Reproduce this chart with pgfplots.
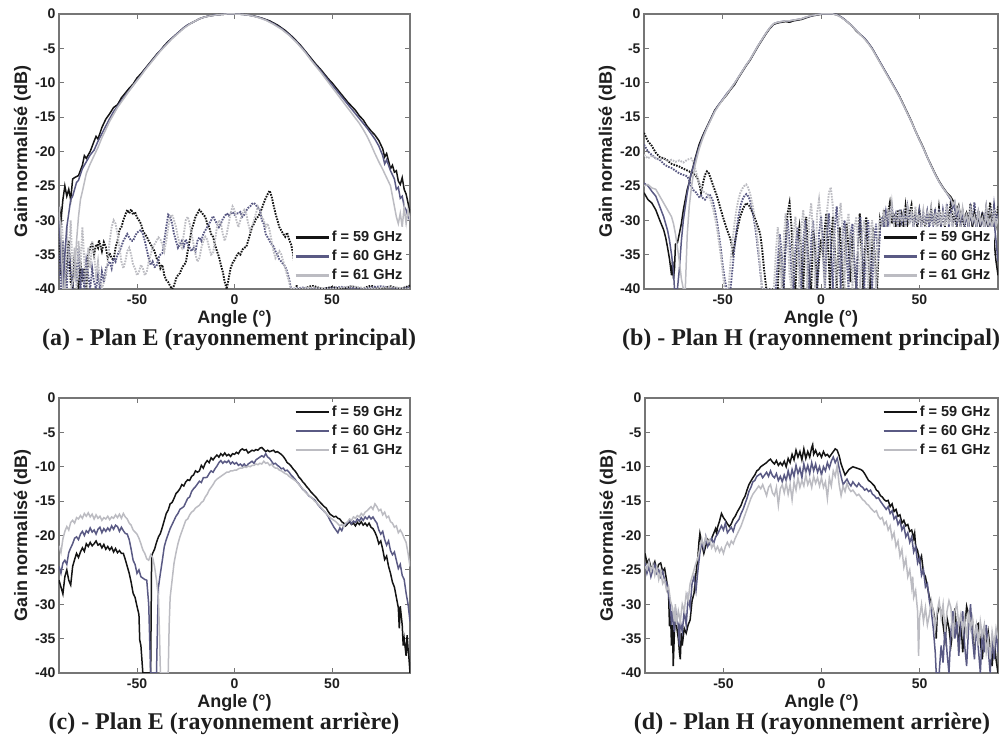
\documentclass[border=0pt]{standalone}
\usepackage{fontspec}
\setmainfont{Liberation Serif}
\setsansfont{Liberation Sans}
\usepackage{pgfplots}
\pgfplotsset{compat=1.18}

\definecolor{c59}{HTML}{141414}
\definecolor{c60}{HTML}{5A5A84}
\definecolor{c61}{HTML}{BCBCC2}
\definecolor{axgray}{HTML}{767676}
\definecolor{txt}{HTML}{1E1E1E}

\tikzset{
  s59/.style={c59, line width=1.5pt},
  s60/.style={c60, line width=1.5pt},
  s61/.style={c61, line width=1.5pt},
  d59/.style={c59, line width=1.9pt, dash pattern=on 1.6pt off 1.2pt},
  d60/.style={c60, line width=1.9pt, dash pattern=on 1.6pt off 1.2pt},
  d61/.style={c61, line width=1.9pt, dash pattern=on 1.6pt off 1.2pt},
}

\pgfplotsset{
  panel/.style={
    scale only axis, height=275pt,
    xmin=-90, xmax=90, ymin=-40, ymax=0,
    xtick={-50,0,50}, ytick={-40,-35,...,0},
    tick align=inside, major tick length=5pt,
    axis line style={draw=axgray, line width=1.2pt},
    tick style={draw=axgray, line width=0.9pt},
    ticklabel style={font=\fontsize{14}{14}\selectfont\sffamily\bfseries, text=txt},
    xticklabel style={yshift=-2pt},
    /pgf/number format/assume math mode=true,
    no markers,
    xlabel={Angle (°)}, ylabel={Gain normalisé (dB)},
    label style={font=\fontsize{18}{18}\selectfont\sffamily\bfseries, text=txt},
    xlabel style={at={(axis description cs:0.5,-0.127)}, anchor=base},
    ylabel style={at={(axis description cs:-0.091,0.5)}, anchor=base},
    legend cell align=left,
    legend image code/.code={\draw[##1, line width=2.2pt] (0pt,0pt) -- (33pt,0pt);},
    legend style={draw=none, fill=white, font=\fontsize{14.5}{14.5}\selectfont\sffamily\bfseries,
      text=txt, row sep=3pt, inner sep=2pt},
  },
}

\begin{document}
\begin{tikzpicture}
\path[use as bounding box] (0,0) rectangle (1002pt,743pt);

%% (a) plan E, principal
\begin{axis}[panel, width=351pt, at={(59pt,454pt)}, anchor=south west,
  legend style={at={(0.99,0.012)}, anchor=south east}]
\addplot[d59, forget plot] coordinates {(-90,-32)(-89,-38)(-88,-34)(-87,-40)(-86,-36)(-85,-33)(-84,-39)(-83,-40)(-82,-35)(-81,-38)(-80,-40)(-79,-36)(-78,-39)(-77,-37)(-76,-40)(-75,-35)(-74,-34)(-73,-33.3)(-72,-35)(-71,-33.5)(-70,-34)(-69.5,-32.9)(-68,-34.5)(-67,-33.2)(-66,-33.9)(-65,-35.5)(-64,-34.8)(-63,-35.5)(-62,-35.8)(-61,-34)(-60,-33)(-59,-31.4)(-58,-31)(-57,-30)(-56,-29.2)(-55,-28.5)(-54,-29)(-53,-28.4)(-52,-29.2)(-51,-28.8)(-50,-29.6)(-49,-30)(-48,-30.5)(-47,-31.5)(-46,-32)(-45,-32.4)(-44,-33)(-43,-33.5)(-42,-34)(-41,-34.5)(-40,-35.5)(-39,-35.8)(-38,-37)(-37,-36.5)(-36,-38)(-35,-38.7)(-34,-39)(-33,-39.6)(-32,-40)(-31,-39.5)(-30,-38.5)(-29,-38)(-28,-37.7)(-27,-37)(-26,-36.5)(-25,-36.2)(-24,-34.5)(-23,-33)(-22,-31.4)(-21,-30.5)(-20,-29.5)(-19,-29)(-18,-28.5)(-17,-28.8)(-16,-29.2)(-15,-29.5)(-14,-30.5)(-13,-31)(-12,-32)(-11,-32.4)(-10,-33.5)(-9,-34.5)(-8,-35.3)(-7,-36.5)(-6,-37.5)(-5,-39)(-4,-40)(-3,-38.5)(-2,-37)(-1,-36.2)(0,-35.8)(1,-35.2)(2,-34.8)(3,-35)(4,-34.3)(5,-34)(6,-33.9)(7,-33)(8,-32)(9,-31)(10,-30.5)(11,-29.8)(12,-29.5)(13,-29)(14,-28.3)(15,-27.5)(16,-26.8)(17,-26.2)(18,-25.7)(19,-26.5)(20,-27.8)(21,-29)(22,-30)(23,-31)(24,-31.5)(25,-32)(26,-32.4)(27,-31.8)(28,-32.8)(29,-33.5)(30,-34.8)(31,-37)(32,-40)(35,-40)(40,-39.5)(45,-40)(50,-39.7)(55,-40)(60,-39.6)(65,-40)(70,-39.5)(75,-40)(80,-39.6)(85,-40)(90,-39.5)};
\addplot[d60, forget plot] coordinates {(-90,-35)(-89,-40)(-88,-33)(-87,-38)(-86,-40)(-85,-34)(-84,-37)(-83,-40)(-82,-36)(-81,-39)(-80,-34)(-79,-40)(-78,-37)(-77,-40)(-76,-36)(-75,-38)(-74,-40)(-73,-37)(-72,-39)(-71,-40)(-70,-38)(-69,-40)(-68,-37.5)(-67,-39)(-66,-37)(-65,-36.5)(-64,-36)(-63,-37)(-62,-35.5)(-61,-36)(-60,-35)(-59,-34.5)(-58,-33.8)(-57,-33)(-56,-32.5)(-55,-32)(-54,-32.5)(-53,-33)(-52,-33)(-51,-32.3)(-50,-31.8)(-49,-31.6)(-48,-31.4)(-47,-32)(-46,-33)(-45,-34.3)(-44,-35.5)(-43,-36.5)(-42,-36)(-41,-36.8)(-40,-36.7)(-39,-35.5)(-38,-35)(-37,-34.8)(-36,-33)(-35,-31)(-34,-29.2)(-33,-29.5)(-32,-30.5)(-31,-32)(-30,-33)(-29,-34)(-28,-33.5)(-27,-33)(-26,-33.8)(-25,-32.8)(-24,-33.5)(-23,-34)(-22,-34.5)(-21,-34)(-20,-34.5)(-19,-33)(-18,-32.5)(-17,-33)(-16,-32)(-15,-31.5)(-14,-31)(-13,-30.5)(-12,-30)(-11,-29.4)(-10,-30)(-9,-30.5)(-8,-31)(-7,-30.5)(-6,-29.8)(-5,-29.4)(-4,-29)(-3,-29.3)(-2,-29)(-1,-28.8)(0,-29.2)(1,-29)(2,-29)(3,-28.8)(4,-29.5)(5,-29.2)(6,-28.6)(7,-28.2)(8,-28)(9,-27.6)(10,-27.5)(11,-27.8)(12,-28.2)(13,-28.5)(14,-30)(15,-30.5)(16,-32)(17,-32.5)(18,-33)(19,-33.5)(20,-33.8)(21,-34.5)(22,-35)(23,-35.7)(24,-36)(25,-36.4)(26,-36.7)(27,-37.5)(28,-38.5)(29,-40)(35,-39.8)(45,-40)(55,-39.7)(65,-40)(75,-39.6)(85,-40)(90,-39.7)};
\addplot[d61, forget plot] coordinates {(-90,-30)(-89,-28)(-88,-33)(-87,-40)(-86,-31)(-85,-36)(-84,-30)(-83,-38)(-82,-34)(-81,-40)(-80,-33)(-79,-37)(-78,-31)(-77,-36)(-76,-40)(-75,-34)(-74,-37)(-73,-33)(-72,-35)(-71,-38)(-70,-36)(-69,-39)(-68,-40)(-66,-38)(-65,-36)(-64,-33)(-63,-31)(-62,-30)(-61,-30.5)(-60,-32)(-59,-34)(-58,-36)(-57,-37)(-56,-36)(-55,-34.5)(-54,-34)(-53,-35)(-52,-36.5)(-51,-37)(-50,-38)(-49,-37.5)(-48,-36.5)(-47,-37)(-46,-38)(-45,-37.5)(-44,-36)(-43,-35)(-42,-34)(-41,-33.5)(-40,-33)(-39,-32.5)(-38,-32.8)(-37,-33.5)(-36,-34.5)(-35,-33)(-34,-31)(-33,-29.5)(-32,-29.2)(-31,-30)(-30,-31)(-29,-32.5)(-28,-33.5)(-27,-34)(-26,-32)(-25,-30)(-24,-29.5)(-23,-30.5)(-22,-32)(-21,-33.5)(-20,-35)(-19,-36)(-18,-35.5)(-17,-34)(-16,-33)(-15,-32.4)(-14,-32.8)(-13,-34)(-12,-35)(-11,-34.8)(-10,-33)(-9,-31)(-8,-30)(-7,-30.5)(-6,-32)(-5,-33)(-4,-32)(-3,-30.5)(-2,-29)(-1,-28)(0,-28.5)(1,-30)(2,-31)(3,-30)(4,-29)(5,-28.5)(6,-29)(7,-30.5)(8,-31.5)(9,-31)(10,-30)(11,-29)(12,-28)(13,-28.5)(14,-29.5)(15,-30)(16,-31)(17,-30.5)(18,-31.5)(19,-33)(20,-34.5)(21,-35.5)(22,-35)(23,-34.5)(24,-35)(25,-36)(26,-37)(27,-38)(28,-39)(29,-40)(40,-39.8)(50,-40)(60,-39.6)(70,-40)(80,-39.7)(90,-40)};
\addplot[s59] coordinates {(-90,-28)(-89,-30)(-88,-27)(-87,-25)(-86,-26.5)(-85,-25.5)(-84,-27)(-83,-24)(-82,-23.8)(-80,-23.5)(-78,-22)(-77,-20.6)(-76,-21)(-74,-20)(-72,-18.5)(-71,-17.8)(-70,-18.2)(-68,-16.5)(-66,-15.3)(-64,-14.5)(-62,-13.6)(-60,-13.2)(-58,-12.2)(-56,-11.5)(-54,-10.8)(-52,-10.2)(-50,-9.3)(-48,-8.7)(-46,-8)(-44,-7.3)(-42,-6.6)(-40,-5.9)(-38,-5.3)(-36,-4.6)(-34,-4.0)(-32,-3.5)(-30,-3.0)(-28,-2.5)(-26,-2.0)(-24,-1.6)(-22,-1.3)(-20,-1.0)(-18,-0.7)(-16,-0.5)(-14,-0.35)(-12,-0.25)(-10,-0.15)(-8,-0.1)(-6,-0.05)(-4,0)(-2,0)(0,0)(2,0)(4,-0.05)(6,-0.1)(8,-0.2)(10,-0.3)(12,-0.45)(14,-0.6)(16,-0.8)(18,-1.0)(20,-1.3)(22,-1.6)(24,-2.0)(26,-2.4)(28,-2.9)(30,-3.4)(32,-4.0)(34,-4.6)(36,-5.3)(38,-6.0)(40,-6.7)(42,-7.4)(44,-8.0)(46,-8.7)(48,-9.4)(50,-10.0)(52,-10.7)(54,-11.4)(56,-12.1)(58,-12.8)(60,-13.4)(62,-14.0)(64,-14.8)(66,-15.4)(68,-16.3)(70,-17.0)(72,-17.6)(74,-18.4)(76,-19.6)(77,-20.8)(78,-20.3)(79,-21.4)(80,-22.5)(81,-22.0)(82,-23.0)(83,-22.8)(84,-24.3)(85,-24.8)(86,-23.8)(87,-25.5)(88,-26.2)(89,-27.5)(90,-29)};
\addlegendentry{f = 59 GHz}
\addplot[s60] coordinates {(-90,-29)(-89,-36)(-88,-40)(-87,-35)(-86,-31)(-85,-29)(-84,-27)(-83,-26.5)(-82,-25.5)(-81,-24.5)(-80,-24.2)(-78,-22.5)(-76,-21.5)(-74,-20.5)(-72,-19.8)(-70,-18.5)(-68,-17.4)(-66,-16.3)(-64,-15.2)(-62,-14.2)(-60,-13.4)(-58,-12.6)(-56,-11.8)(-54,-11.1)(-52,-10.4)(-50,-9.6)(-48,-8.9)(-46,-8.1)(-44,-7.4)(-42,-6.7)(-40,-6.0)(-38,-5.3)(-36,-4.7)(-34,-4.1)(-32,-3.5)(-30,-3.0)(-28,-2.5)(-26,-2.0)(-24,-1.6)(-22,-1.3)(-20,-1.0)(-18,-0.7)(-16,-0.5)(-14,-0.35)(-12,-0.25)(-10,-0.15)(-8,-0.1)(-6,-0.05)(-4,0)(0,0)(4,-0.05)(8,-0.2)(12,-0.45)(16,-0.85)(20,-1.4)(24,-2.1)(28,-3.0)(32,-4.1)(36,-5.4)(40,-6.9)(44,-8.2)(48,-9.6)(52,-11.0)(56,-12.4)(60,-13.8)(64,-15.2)(68,-16.6)(70,-17.4)(72,-18.2)(74,-19.2)(76,-20.6)(77,-21.8)(78,-21.2)(80,-22.8)(82,-24.0)(83,-25.5)(84,-25.2)(85,-26.8)(86,-26.5)(87,-28)(88,-28.5)(89,-29.5)(90,-30)};
\addlegendentry{f = 60 GHz}
\addplot[s61] coordinates {(-90,-28)(-89,-32)(-88,-40)(-86,-40)(-84,-40)(-82,-38)(-81,-33)(-80,-29.5)(-79,-27)(-78,-25.8)(-77,-24.5)(-76,-23.2)(-74,-21.8)(-72,-20.6)(-70,-19.4)(-68,-18.0)(-66,-16.8)(-64,-15.6)(-62,-14.6)(-60,-13.6)(-58,-12.8)(-56,-12.0)(-54,-11.2)(-52,-10.4)(-50,-9.7)(-48,-9.0)(-46,-8.2)(-44,-7.5)(-42,-6.8)(-40,-6.1)(-38,-5.4)(-36,-4.8)(-34,-4.2)(-32,-3.6)(-30,-3.1)(-28,-2.6)(-26,-2.1)(-24,-1.7)(-22,-1.3)(-20,-1.0)(-18,-0.7)(-16,-0.5)(-12,-0.25)(-8,-0.1)(-4,0)(0,0)(4,-0.05)(8,-0.2)(12,-0.5)(16,-0.9)(20,-1.5)(24,-2.2)(28,-3.1)(32,-4.2)(36,-5.5)(40,-7.0)(44,-8.4)(48,-9.9)(52,-11.4)(56,-12.9)(60,-14.4)(64,-15.9)(66,-16.8)(68,-17.8)(70,-19.0)(72,-20.3)(74,-21.5)(76,-22.6)(78,-23.8)(80,-25.0)(81,-26.5)(82,-28)(83,-29.5)(84,-30.5)(85,-29)(86,-31)(87,-28)(88,-30.5)(89,-28.5)(90,-30)};
\addlegendentry{f = 61 GHz}
\end{axis}

%% (b) plan H, principal
\begin{axis}[panel, width=354pt, at={(644pt,454pt)}, anchor=south west,
  legend style={at={(0.99,0.012)}, anchor=south east}]
\addplot[d59, forget plot] coordinates {(-90,-17.3)(-88,-18.5)(-86,-19.2)(-85.4,-19.5)(-84,-20.2)(-82,-20.8)(-80,-21)(-78.6,-21.2)(-76,-21.8)(-74,-22)(-72,-22.2)(-70,-22.5)(-68.5,-22.7)(-67,-22.9)(-65,-23.2)(-63.5,-23.6)(-62.5,-24.1)(-61.5,-25.2)(-61,-26)(-60,-24.6)(-59,-23.4)(-58,-22.9)(-57,-23.2)(-56,-24)(-54.8,-25)(-53,-26.4)(-51.4,-28)(-50,-29.4)(-48,-31.2)(-46,-32.8)(-44.7,-34.8)(-43.5,-32.8)(-42,-30.6)(-41,-29.4)(-39.5,-28.2)(-38,-27.5)(-36.5,-27.9)(-34.6,-29)(-33,-30.2)(-31,-31.9)(-30,-34)(-29,-37)(-27.8,-40)(-22,-40)(-21,-34)(-20,-38)(-19,-40)(-18,-33)(-17,-29)(-16,-27.5)(-15,-31)(-14,-38)(-13,-40)(-12,-33)(-11,-31)(-10,-35)(-9,-40)(-8,-32)(-7.5,-29.5)(-7,-33)(-6,-38)(-5,-40)(-4,-31.5)(-3,-34)(-2,-40)(-1,-36)(0,-32.8)(1,-35)(2,-31)(2.7,-29)(3.5,-33)(4.5,-40)(5.5,-32)(6,-29.5)(7,-34)(8,-40)(9,-33)(9.5,-31)(10.5,-36)(11.5,-40)(12.5,-33)(13,-30.5)(14,-34)(15,-39)(16,-32)(17,-37)(18,-40)(19,-33)(19.7,-29)(20.5,-34)(21.5,-40)(22.5,-33)(23,-29.5)(24,-35)(25,-40)(26,-34)(26.4,-31)(27.5,-36)(28.5,-40)(29.5,-33)(30,-30)(31,-31.5)(32,-28.5)(33,-31)(34,-29)(35,-27.5)(36,-30.5)(37,-29)(38,-31)(39,-28.5)(40,-30.8)(41,-29.2)(42,-31)(43,-28)(44,-30.5)(45,-29)(46,-27.8)(47,-30.8)(48,-29)(49,-31)(50,-28.6)(51,-30.4)(52,-29.6)(53,-31)(54,-29)(55,-30.5)(56,-28.4)(57,-30.8)(58,-29)(59,-31.2)(60,-28.2)(61,-30.6)(62,-29)(63,-31)(64,-28.6)(65,-30)(66,-27.2)(67,-30.5)(68,-29)(69,-31)(70,-28.4)(71,-30.6)(72,-29.4)(73,-31.2)(74,-28.8)(75,-30.4)(76,-27.6)(77,-30.8)(78,-29.2)(79,-31)(80,-28.6)(81,-30.4)(82,-29)(83,-31)(84,-28.4)(85,-30.2)(86,-27.4)(87,-30.6)(88,-28.8)(89,-30.5)(90,-28)};
\addplot[d60, forget plot] coordinates {(-90,-19)(-88,-20)(-86,-20.5)(-84,-21)(-82,-21.2)(-80,-21.8)(-78,-22.2)(-76,-22.4)(-74,-22.8)(-72,-23.2)(-70,-23.4)(-68,-23.6)(-67,-24.2)(-66,-25)(-65,-25.6)(-64,-25.8)(-63,-26.2)(-62,-26.6)(-61,-26.4)(-60,-26.8)(-59,-27)(-58,-26.6)(-57,-26.2)(-56,-26.5)(-55,-27.2)(-54,-28.5)(-53,-30)(-52,-32)(-51,-34)(-50,-36.5)(-49,-38.5)(-48,-40)(-46,-40)(-45,-37)(-44,-34)(-43,-31.5)(-42,-29.5)(-41,-28)(-40,-27)(-39,-26.5)(-38,-26.2)(-37,-26.5)(-36,-27.2)(-35,-28.5)(-34,-30)(-33,-32)(-32,-34.5)(-31,-37)(-30,-40)(-23,-40)(-22,-36)(-21,-32)(-20,-35)(-19,-40)(-18,-34)(-17,-30)(-16,-33)(-15,-38)(-14,-40)(-13,-34)(-12,-31)(-11,-36)(-10,-40)(-9,-33)(-8,-30)(-7,-35)(-6,-40)(-5,-33)(-4,-30)(-3,-36)(-2,-40)(-1,-32)(0,-29.5)(1,-33)(2,-40)(3,-32)(4,-29)(5,-34)(6,-40)(7,-31)(8,-28)(9,-33)(10,-40)(11,-32)(12,-30)(13,-35)(14,-40)(15,-32)(16,-30.5)(17,-36)(18,-40)(19,-32)(20,-29.5)(21,-34)(22,-40)(23,-32)(24,-30)(25,-35)(26,-40)(27,-33)(28,-30.5)(29,-36)(30,-32)(31,-29.5)(32,-31)(33,-28.8)(34,-30.6)(35,-29)(36,-28)(37,-30.4)(38,-29.2)(39,-31)(40,-28.4)(41,-30.2)(42,-29)(43,-30.8)(44,-28.2)(45,-30.4)(46,-28.8)(47,-31)(48,-29.4)(49,-30.2)(50,-28.6)(51,-31)(52,-29)(53,-30.5)(54,-28.8)(55,-31.2)(56,-29.2)(57,-30.6)(58,-28.4)(59,-30.8)(60,-29)(61,-31)(62,-28.6)(63,-30.4)(64,-27.6)(65,-30.8)(66,-29)(67,-31)(68,-28.8)(69,-30.4)(70,-29.2)(71,-31)(72,-28.6)(73,-30.6)(74,-29)(75,-31)(76,-28.4)(77,-30.2)(78,-27.4)(79,-30.6)(80,-29)(81,-31)(82,-28.8)(83,-30.4)(84,-28.2)(85,-30.8)(86,-29)(87,-31)(88,-27.8)(89,-30.2)(90,-29)};
\addplot[d61, forget plot] coordinates {(-90,-20.5)(-88,-21)(-86,-20.6)(-84,-21)(-82,-21.2)(-80,-21)(-78,-21.4)(-76,-21.2)(-74,-21.5)(-72,-21.3)(-70,-21.6)(-68,-21.2)(-66,-21)(-65,-21.5)(-64,-22.5)(-63,-23.5)(-62,-24.5)(-61,-25.3)(-60,-25.8)(-59,-26)(-58,-26.2)(-57,-26.5)(-56,-27.2)(-55,-28.2)(-54,-29.5)(-53,-31)(-52,-33)(-51,-35)(-50,-37.5)(-49,-40)(-47,-40)(-46,-36)(-45,-33)(-44,-30.5)(-43,-28.5)(-42,-27)(-41,-26)(-40,-25.4)(-39,-25)(-38,-24.8)(-37,-25.3)(-36,-26.2)(-35,-27.5)(-34,-29)(-33,-31)(-32,-33.5)(-31,-36.5)(-30,-40)(-24,-40)(-23,-35)(-22,-31)(-21,-34)(-20,-40)(-19,-33)(-18,-29)(-17,-32)(-16,-38)(-15,-40)(-14,-32)(-13,-29.5)(-12,-34)(-11,-40)(-10,-31)(-9,-28.5)(-8,-33)(-7,-40)(-6,-30)(-5,-27.5)(-4,-32)(-3,-40)(-2,-29)(-1,-27)(0,-30)(1,-36)(2,-40)(3,-29)(4,-26)(5,-25.2)(6,-28)(7,-35)(8,-40)(9,-30)(10,-27.5)(11,-32)(12,-40)(13,-31)(14,-29)(15,-34)(16,-40)(17,-31)(18,-29.5)(19,-35)(20,-40)(21,-32)(22,-30)(23,-36)(24,-40)(25,-32)(26,-30)(27,-35)(28,-40)(29,-32)(30,-29.5)(31,-31)(32,-29)(33,-30.6)(34,-28.4)(35,-30.2)(36,-27.5)(37,-30.4)(38,-29)(39,-30.8)(40,-28.6)(41,-30.2)(42,-29.2)(43,-31)(44,-28.4)(45,-30.6)(46,-29)(47,-30.8)(48,-28)(49,-30.4)(50,-29.2)(51,-30.6)(52,-28.6)(53,-31)(54,-29)(55,-30.4)(56,-28.2)(57,-30.8)(58,-29.4)(59,-31)(60,-28.8)(61,-30.2)(62,-29)(63,-30.8)(64,-28.4)(65,-30.6)(66,-29)(67,-31)(68,-28.6)(69,-30.2)(70,-29.2)(71,-30.8)(72,-28.4)(73,-30.6)(74,-29)(75,-30.4)(76,-27.8)(77,-30.6)(78,-29)(79,-31)(80,-28.8)(81,-30.2)(82,-29.4)(83,-31)(84,-28.2)(85,-30.6)(86,-29)(87,-30.8)(88,-28.4)(89,-30.2)(90,-29.5)};
\addplot[s59] coordinates {(-90,-26)(-88,-27)(-86,-27.5)(-84,-28.5)(-82,-30)(-80,-31.4)(-79,-32.5)(-78,-34)(-77,-35.7)(-76,-38)(-75.5,-36)(-75,-38.5)(-74.5,-37)(-74,-33.5)(-73,-33.3)(-72,-31.9)(-71,-30.5)(-70,-28.5)(-69,-27)(-68,-25.5)(-67,-24.5)(-66,-23.2)(-65,-22.2)(-64,-21)(-63,-20)(-62,-19)(-61,-18.3)(-60,-17.6)(-58,-16.4)(-56,-15.2)(-54,-14)(-52,-13.2)(-50,-12.5)(-48,-11.8)(-46,-11)(-44,-10.3)(-42,-9.3)(-40,-8.4)(-38,-7.5)(-36,-6.7)(-34,-5.7)(-32,-4.7)(-30,-3.8)(-28,-2.9)(-26,-2.1)(-24,-1.5)(-22,-1.3)(-20,-1.2)(-18,-1.1)(-16,-1.2)(-14,-1.0)(-12,-0.9)(-10,-0.8)(-8,-0.6)(-6,-0.4)(-4,-0.25)(-2,-0.15)(0,-0.05)(2,0)(4,0)(6,0)(8,-0.1)(10,-0.4)(12,-0.8)(14,-1.3)(16,-1.8)(18,-2.5)(20,-3.0)(22,-3.5)(24,-4.2)(26,-5.0)(28,-6.0)(30,-7.0)(32,-8.0)(34,-9.0)(36,-10.0)(38,-11.0)(40,-12.0)(42,-13.2)(44,-14.4)(46,-15.6)(48,-17.0)(50,-18.2)(52,-19.4)(54,-20.8)(56,-22)(58,-23.2)(60,-24.3)(62,-25.2)(64,-26)(66,-26.6)(68,-27.6)(69,-28.5)(70,-27.8)(71,-29.5)(72,-28.6)(73,-30.2)(74,-29)(75,-30.5)(76,-29.3)(77,-30.8)(78,-28.9)(79,-30.4)(80,-29.5)(81,-31)(82,-29.2)(83,-30.6)(84,-29.8)(85,-31.2)(86,-29.5)(87,-30.8)(88,-33)(89,-36)(90,-38)};
\addlegendentry{f = 59 GHz}
\addplot[s60] coordinates {(-90,-24.6)(-88,-25)(-86,-25.8)(-84,-26.5)(-82,-28)(-80,-29.5)(-79,-30.5)(-78,-31.5)(-77,-33)(-76,-35)(-75,-37.5)(-74.5,-40)(-73,-40)(-72,-37)(-71,-33)(-70,-30)(-69,-28)(-68,-26)(-67,-24.5)(-66,-23.2)(-65,-22.3)(-64,-21.3)(-63,-20.3)(-62,-19.4)(-61,-18.6)(-60,-17.8)(-58,-16.5)(-56,-15.3)(-54,-14.1)(-52,-13.2)(-50,-12.4)(-48,-11.6)(-46,-10.9)(-44,-10.1)(-42,-9.2)(-40,-8.3)(-38,-7.4)(-36,-6.6)(-34,-5.6)(-32,-4.6)(-30,-3.7)(-28,-2.8)(-26,-2.0)(-24,-1.4)(-22,-1.2)(-20,-1.1)(-18,-1.0)(-16,-1.0)(-14,-0.9)(-12,-0.8)(-10,-0.7)(-8,-0.5)(-6,-0.35)(-4,-0.2)(-2,-0.1)(0,0)(2,0)(4,0)(6,0)(8,-0.1)(10,-0.4)(12,-0.8)(14,-1.3)(16,-1.8)(18,-2.4)(20,-3.0)(22,-3.5)(24,-4.2)(26,-5.0)(28,-6.0)(30,-7.0)(32,-8.0)(34,-9.0)(36,-10.0)(38,-11.0)(40,-12.1)(42,-13.3)(44,-14.5)(46,-15.7)(48,-17.0)(50,-18.3)(52,-19.5)(54,-20.8)(56,-22.1)(58,-23.3)(60,-24.4)(62,-25.3)(64,-26.1)(66,-27)(67,-28.2)(68,-27.4)(69,-29.2)(70,-28.2)(71,-30)(72,-28.8)(73,-30.6)(74,-29.4)(75,-31)(76,-29)(77,-30.4)(78,-29.6)(79,-31.2)(80,-29)(81,-30.6)(82,-29.8)(83,-31.2)(84,-29.4)(85,-30.8)(86,-30)(87,-31.4)(88,-30.2)(89,-33)(90,-36)};
\addlegendentry{f = 60 GHz}
\addplot[s61] coordinates {(-90,-25)(-88,-24.8)(-86,-25.3)(-84,-25.5)(-82,-26.5)(-80,-27.5)(-78,-28.5)(-76,-29.5)(-75,-30.5)(-74,-32)(-73,-34)(-72,-36)(-71,-38.5)(-70,-40)(-69,-40)(-68.5,-36)(-68,-32)(-67,-28)(-66,-25.5)(-65,-23.5)(-64,-22)(-63,-20.8)(-62,-19.7)(-61,-18.8)(-60,-18)(-58,-16.6)(-56,-15.4)(-54,-14.2)(-52,-13.3)(-50,-12.5)(-48,-11.7)(-46,-10.9)(-44,-10.1)(-42,-9.2)(-40,-8.3)(-38,-7.4)(-36,-6.6)(-34,-5.6)(-32,-4.6)(-30,-3.7)(-28,-2.8)(-26,-2.0)(-24,-1.4)(-22,-1.2)(-20,-1.1)(-18,-1.0)(-16,-1.0)(-14,-0.9)(-12,-0.8)(-10,-0.7)(-8,-0.5)(-6,-0.3)(-4,-0.2)(-2,-0.1)(0,0)(2,0)(4,0)(6,0)(8,-0.15)(10,-0.45)(12,-0.85)(14,-1.3)(16,-1.8)(18,-2.4)(20,-3.0)(22,-3.6)(24,-4.3)(26,-5.1)(28,-6.1)(30,-7.1)(32,-8.1)(34,-9.1)(36,-10.1)(38,-11.1)(40,-12.1)(42,-13.3)(44,-14.5)(46,-15.7)(48,-17.0)(50,-18.3)(52,-19.5)(54,-20.8)(56,-22.1)(58,-23.3)(60,-24.4)(62,-25.3)(64,-26.1)(66,-26.8)(67,-27.8)(68,-27.2)(69,-28.8)(70,-28)(71,-29.6)(72,-28.4)(73,-30.2)(74,-29.2)(75,-30.6)(76,-28.8)(77,-30.2)(78,-29.4)(79,-30.8)(80,-28.8)(81,-30.4)(82,-29.6)(83,-31)(84,-29.2)(85,-30.6)(86,-29.8)(87,-31)(88,-29.6)(89,-30.8)(90,-30)};
\addlegendentry{f = 61 GHz}
\end{axis}

%% (c) plan E, arriere
\begin{axis}[panel, width=351pt, at={(59pt,70pt)}, anchor=south west,
  legend style={at={(0.99,0.985)}, anchor=north east}]
\addplot[s59] coordinates {(-90,-26.5)(-89,-27.5)(-88,-28.5)(-87,-26)(-86,-25)(-85,-26.5)(-84,-27.2)(-83,-24.5)(-82,-23.5)(-81,-22.6)(-80,-23.2)(-79,-22.4)(-78,-21.8)(-77,-22.3)(-76,-21.2)(-75,-21.6)(-74,-21.0)(-73,-21.5)(-72,-21.2)(-71,-20.8)(-70,-21.4)(-69,-21.2)(-68,-21.8)(-67,-21.3)(-66,-22)(-65,-21.6)(-64,-22.1)(-63,-21.7)(-62,-22.4)(-61,-21.9)(-60,-22.5)(-59,-22.2)(-58,-22.6)(-57,-22.6)(-56,-23.5)(-55,-24.5)(-54,-25.5)(-53,-26.8)(-52,-28.4)(-51,-29)(-50,-30.3)(-49,-31.5)(-48.6,-35.2)(-48,-36)(-47,-40)(-43,-40)(-42.5,-23)(-42,-22.6)(-41,-22)(-40,-21)(-39,-20.2)(-38,-19.7)(-37,-18.8)(-36,-17.8)(-35,-16.8)(-34,-16.3)(-33,-15.4)(-32,-15.2)(-31,-14.6)(-30,-13.9)(-29,-13.6)(-28,-13.2)(-27,-12.6)(-26,-12.8)(-25,-12.2)(-24,-11.9)(-23,-12)(-22,-11.4)(-21,-11.2)(-20,-10.6)(-19,-10.8)(-18,-10.6)(-17,-9.8)(-16,-10.2)(-15,-9.5)(-14,-9.1)(-13,-9.4)(-12,-8.7)(-11,-9)(-10,-8.6)(-9,-8.3)(-8,-8.6)(-7,-8.1)(-6,-8.4)(-5,-8)(-4,-8.4)(-3,-8.2)(-2,-8.5)(-1,-8.1)(0,-8.2)(1,-7.9)(2,-8.1)(3,-7.6)(4,-7.4)(5,-7.6)(6,-7.5)(7,-8)(8,-7.8)(9,-7.6)(10,-7.7)(11,-7.5)(12,-7.6)(13,-7.3)(14,-7.2)(15,-7.5)(16,-7.8)(17,-7.6)(18,-7.8)(19,-7.7)(20,-7.6)(21,-7.9)(22,-7.8)(23,-8)(24,-8.2)(25,-8.5)(26,-8.9)(27,-9.4)(28,-9.6)(29,-9.9)(30,-10.3)(31,-10.6)(32,-11)(33,-11.5)(34,-11.8)(35,-12.2)(36,-12.5)(37,-12.9)(38,-13.2)(39,-13.6)(40,-13.9)(41,-14.2)(42,-14.5)(43,-14.9)(44,-15.2)(45,-15.5)(46,-15.8)(47,-16)(48,-16.5)(49,-16.9)(50,-17.1)(51,-17.3)(52,-17.2)(53,-17.5)(54,-17.6)(55,-18)(56,-18.2)(57,-18.6)(58,-18.3)(59,-18)(60,-18.4)(61,-18.2)(62,-18.6)(63,-18.1)(64,-18.4)(65,-18)(66,-18.5)(67,-18.2)(68,-18.6)(69,-18.2)(70,-18.8)(71,-19)(72,-19.5)(73,-20.2)(74,-21.2)(75,-20.8)(76,-22)(77,-23.5)(78,-23)(79,-24.5)(80,-25.5)(81,-26.8)(82,-27.5)(83,-29)(84,-30.5)(84.5,-33.5)(85,-30.3)(86,-33)(86.5,-36)(87,-35)(88,-37.5)(88.5,-34.5)(89,-36.5)(89.5,-38)(90,-40)};
\addlegendentry{f = 59 GHz}
\addplot[s60] coordinates {(-90,-24.5)(-89,-25.5)(-88,-24)(-87,-23.6)(-86,-24.2)(-85,-22.5)(-84,-21.8)(-83,-21.2)(-82,-20.4)(-81,-20.2)(-80,-20.6)(-79,-19.8)(-78,-19.4)(-77,-20)(-76,-19.3)(-75,-19.6)(-74,-18.9)(-73,-19.5)(-72,-19.2)(-71,-19.8)(-70,-19.1)(-69,-18.8)(-68,-19.6)(-67,-19)(-66,-19.4)(-65,-18.9)(-64,-19.3)(-63,-18.6)(-62,-19.1)(-61,-18.5)(-60,-18.7)(-59,-19.4)(-58,-18.8)(-57,-19.3)(-56,-19.7)(-55,-19.8)(-54,-20.6)(-53,-22)(-52,-23.6)(-51,-24.2)(-50,-25.5)(-49,-25)(-48,-26)(-47,-26.2)(-46,-26.4)(-45,-26.5)(-44,-30)(-43.5,-35)(-43,-40)(-40,-40)(-39.5,-33)(-39,-27.5)(-38,-25.5)(-37,-23.6)(-36,-21.6)(-35,-20.6)(-34,-19.8)(-33,-19)(-32,-18.4)(-31,-17.8)(-30,-17.2)(-29,-16.8)(-28,-16.2)(-27,-16)(-26,-15.8)(-25,-15.2)(-24,-14.6)(-23,-14.4)(-22,-13.6)(-21,-13.2)(-20,-12.9)(-19,-12.5)(-18,-12.1)(-17,-12.3)(-16,-11.6)(-15,-11.6)(-14,-11.5)(-13,-11)(-12,-10.6)(-11,-10.8)(-10,-10.3)(-9,-9.9)(-8,-9.4)(-7,-9.1)(-6,-9.5)(-5,-9.2)(-4,-9.4)(-3,-9.1)(-2,-9.6)(-1,-9.3)(0,-9.6)(1,-9.4)(2,-9.8)(3,-9.6)(4,-9.9)(5,-9.6)(6,-10)(7,-9.6)(8,-9.4)(9,-9.2)(10,-9.5)(11,-9.0)(12,-8.8)(13,-8.6)(14,-8.4)(15,-8.6)(16,-8.1)(17,-8.6)(18,-8.8)(19,-9.2)(20,-9.6)(21,-9.5)(22,-9.8)(23,-10)(24,-10.3)(25,-10.2)(26,-10.6)(27,-10.5)(28,-10.8)(29,-11.2)(30,-11.5)(31,-11.8)(32,-12.2)(33,-12.5)(34,-12.9)(35,-13.3)(36,-13.5)(37,-13.8)(38,-14.2)(39,-14.4)(40,-14.6)(41,-14.8)(42,-15.2)(43,-15.6)(44,-15.9)(45,-16.2)(46,-16.5)(47,-16.8)(48,-17.2)(49,-17.8)(50,-18.3)(51,-18.8)(52,-19.2)(53,-19.6)(54,-18.9)(55,-19.3)(56,-18.6)(57,-18.4)(58,-18.1)(59,-17.8)(60,-18.3)(61,-17.9)(62,-18.1)(63,-17.6)(64,-17.9)(65,-17.4)(66,-17.8)(67,-17.3)(68,-17.6)(69,-17.2)(70,-17.6)(71,-17.3)(72,-17.8)(73,-18.2)(74,-19.2)(75,-19.8)(76,-19.4)(77,-20.6)(78,-21.4)(79,-20.8)(80,-22.2)(81,-22.8)(82,-22.4)(83,-23.6)(84,-24.8)(85,-24.2)(86,-25.8)(87,-26.4)(88,-28.4)(89,-30)(90,-32.5)};
\addlegendentry{f = 60 GHz}
\addplot[s61] coordinates {(-90,-21.5)(-89,-22.5)(-88,-20.5)(-87,-19.4)(-86,-18.7)(-85,-19.2)(-84,-18.1)(-83,-17.8)(-82,-18.2)(-81,-17.4)(-80,-17.6)(-79,-17.1)(-78,-17.5)(-77,-16.8)(-76,-17.2)(-75,-16.7)(-74,-17.3)(-73,-16.9)(-72,-17.6)(-71,-17.0)(-70,-17.5)(-69,-17.2)(-68,-17.8)(-67,-17.4)(-66,-17.6)(-65,-17.2)(-64,-17.7)(-63,-17.3)(-62,-17.5)(-61,-17.0)(-60,-17.4)(-59,-16.9)(-58,-17.5)(-57,-16.8)(-56,-17.3)(-55,-17.6)(-54,-18.2)(-53,-18.5)(-52,-19.2)(-51,-19.5)(-50,-19.8)(-49,-20.4)(-48,-21.2)(-47,-22.1)(-46,-22.6)(-45,-23.4)(-44,-23.6)(-43,-22.8)(-42,-23.2)(-41,-24.5)(-40,-26.5)(-39,-29)(-38.5,-34)(-38,-40)(-34,-40)(-33.5,-33)(-33,-29)(-32,-26.5)(-31,-24)(-30,-22.5)(-29,-21.2)(-28,-20.2)(-27,-19.4)(-26,-18.6)(-25,-17.8)(-24,-17.6)(-23,-17)(-22,-16.6)(-21,-16.4)(-20,-16)(-19,-15.8)(-18,-15.6)(-17,-15.2)(-16,-15.0)(-15,-14.4)(-14,-14.0)(-13,-13.4)(-12,-13)(-11,-12.6)(-10,-12.1)(-9,-11.8)(-8,-11.6)(-7,-11.4)(-6,-11.2)(-5,-11)(-4,-10.8)(-3,-10.8)(-2,-10.6)(-1,-10.6)(0,-10.5)(1,-10.5)(2,-10.3)(3,-10.2)(4,-10.2)(5,-10)(6,-10.1)(7,-9.9)(8,-10)(9,-9.8)(10,-9.8)(11,-9.6)(12,-9.7)(13,-9.5)(14,-9.6)(15,-9.2)(16,-9.5)(17,-9.4)(18,-9.8)(19,-9.6)(20,-10)(21,-10.2)(22,-10.2)(23,-10.5)(24,-10.6)(25,-10.8)(26,-11)(27,-11.1)(28,-11.4)(29,-11.6)(30,-11.8)(31,-12.0)(32,-12.2)(33,-12.6)(34,-12.9)(35,-13.2)(36,-13.6)(37,-13.9)(38,-14.1)(39,-14.4)(40,-14.6)(41,-15)(42,-15.2)(43,-15.5)(44,-15.8)(45,-16.1)(46,-16.5)(47,-16.8)(48,-17.1)(49,-17.4)(50,-17.6)(51,-17.8)(52,-18)(53,-18.3)(54,-18.6)(55,-18.4)(56,-18.8)(57,-18.2)(58,-18.0)(59,-17.6)(60,-17.8)(61,-17.3)(62,-17.5)(63,-17.1)(64,-17.3)(65,-16.8)(66,-17.1)(67,-16.6)(68,-16.4)(69,-16.1)(70,-15.8)(71,-16.2)(72,-15.4)(73,-15.8)(74,-16.4)(75,-16.2)(76,-17)(77,-16.6)(78,-17.4)(79,-17.2)(80,-18.0)(81,-18.2)(82,-18.8)(83,-18.6)(84,-19.6)(85,-19.2)(86,-19.7)(87,-20.4)(88,-21)(89,-22.6)(90,-24.5)};
\addlegendentry{f = 61 GHz}
\end{axis}

%% (d) plan H, arriere
\begin{axis}[panel, width=353pt, at={(645pt,70pt)}, anchor=south west,
  legend style={at={(0.99,0.985)}, anchor=north east}]
\addplot[s59] coordinates {(-90,-22.6)(-89,-24)(-88,-23.5)(-87,-24.6)(-86,-24.5)(-85,-23.8)(-84,-25)(-83,-24.2)(-82,-24)(-81,-25.2)(-80,-24.8)(-79,-26.5)(-78,-28.4)(-77.5,-33.2)(-77,-31)(-76.5,-36)(-76,-33)(-75.6,-39)(-75,-34)(-74.5,-31.3)(-74,-33)(-73,-35)(-72.4,-37.1)(-72,-38)(-71.5,-34.2)(-71,-36)(-70,-33.5)(-69,-34.2)(-68,-33)(-67,-32.3)(-66,-29.5)(-65,-28.4)(-64,-25.5)(-63,-23)(-62.5,-21)(-62,-19.7)(-61,-21.2)(-60,-22.6)(-59,-21.5)(-58,-20.6)(-57,-21.2)(-56,-20.4)(-55,-19.7)(-54,-19)(-53.5,-19.7)(-53,-18.8)(-52,-17.9)(-51,-16.8)(-50,-17.4)(-49,-17.8)(-48,-18.3)(-47,-18.7)(-46,-18.3)(-45,-17.6)(-44,-17.2)(-43,-16.6)(-42,-16.1)(-41,-15.6)(-40,-14.8)(-39,-14.3)(-38,-13.4)(-37,-12.6)(-36,-12.1)(-35,-11.6)(-34,-11.2)(-33,-10.6)(-32,-10.4)(-31,-10)(-30,-9.8)(-29,-9.6)(-28,-9.4)(-27,-9.1)(-26,-8.9)(-25,-9.3)(-24,-9.6)(-23,-9.1)(-22,-9.8)(-21,-9.4)(-20,-9.8)(-19,-9.2)(-18,-10)(-17,-8.8)(-16,-9.4)(-15,-8.2)(-14,-9)(-13,-7.6)(-12,-8.6)(-11,-7.8)(-10,-9)(-9,-7.4)(-8,-8.8)(-7,-7.8)(-6,-8.6)(-5,-7.2)(-4.5,-6.8)(-4,-8.2)(-3,-7.6)(-2,-8.4)(-1,-8)(0,-8.6)(1,-7.8)(2,-8.4)(3,-8.2)(4,-8.6)(5,-8.2)(6,-7.8)(7,-7.4)(8,-7.6)(9,-8.4)(10,-9.6)(11,-10.4)(12,-11.2)(13,-10.8)(14,-10.4)(15,-10.2)(16,-10)(17,-10.1)(18,-10.2)(19,-10.3)(20,-10.4)(21,-10.6)(22,-11)(23,-11.5)(24,-12)(25,-12.2)(26,-12.5)(27,-12.8)(28,-13.4)(29,-13.6)(30,-14.2)(31,-14.4)(32,-14.8)(33,-15)(34,-14.9)(35,-15.8)(36,-15.4)(37,-16.5)(38,-16.2)(39,-17.2)(40,-17)(41,-18.2)(42,-17.8)(43,-18.6)(44,-18.4)(45,-19.4)(46,-19.2)(47,-20.4)(47.5,-19.7)(48,-21.5)(49,-22.2)(50,-23.8)(51,-23)(52,-25.4)(53,-26)(54,-27.5)(55,-28.9)(56,-30)(57,-30.9)(58,-32.5)(58.5,-35)(59,-31.5)(60,-30.3)(61,-31)(62,-33)(63,-35.2)(64,-32)(65,-33.5)(66,-36)(67,-33.8)(68,-30.6)(69,-34)(70,-35.2)(71,-32)(72,-37)(73,-33.5)(74,-30.3)(75,-31.5)(76,-33)(77,-32.5)(78,-36)(79,-33)(80,-32.8)(81,-35.5)(82,-38)(83,-34.4)(84,-36)(85,-34)(86,-36.5)(87,-39)(88,-35)(89,-38)(90,-40)};
\addlegendentry{f = 59 GHz}
\addplot[s60] coordinates {(-90,-24)(-89,-25.5)(-88,-24.5)(-87,-26)(-86,-25)(-85,-24.2)(-84,-25.5)(-83,-25)(-82,-26)(-81,-25.2)(-80,-26.5)(-79,-26.8)(-78,-28.5)(-77,-30.5)(-76.5,-33)(-76,-31)(-75,-34)(-74.5,-30.5)(-74,-32)(-73,-33)(-72.5,-36)(-72,-32.5)(-71,-34)(-70,-31)(-69,-33)(-68,-29)(-67,-30.5)(-66,-27)(-65,-26)(-64,-28)(-63,-25)(-62,-22.5)(-61,-21)(-60,-22)(-59,-20.2)(-58,-21.6)(-57,-21)(-56,-20.4)(-55,-21.2)(-54,-20.2)(-53,-19.8)(-52,-19.2)(-51,-18.6)(-50,-19.2)(-49,-18.2)(-48,-19.6)(-47,-19.2)(-46,-18.8)(-45,-19.4)(-44,-18.4)(-43,-18)(-42,-17.6)(-41,-16.8)(-40,-16.2)(-39,-15.4)(-38,-14.6)(-37,-13.6)(-36,-13)(-35,-12.2)(-34,-12)(-33,-11.4)(-32,-11.2)(-31,-11)(-30,-11.6)(-29,-11.2)(-28,-10.8)(-27,-11.4)(-26,-10.6)(-25,-11.3)(-24,-11.6)(-23,-11)(-22,-12)(-21,-11.4)(-20,-12.2)(-19,-11.2)(-18,-12)(-17,-10.6)(-16,-11.8)(-15,-10.4)(-14,-11.4)(-13,-9.8)(-12,-11)(-11,-10.2)(-10,-11.6)(-9,-9.6)(-8,-10.8)(-7,-9.8)(-6,-11)(-5,-9.4)(-4,-10.6)(-3,-9.6)(-2,-10.8)(-1,-10)(0,-11.2)(1,-10)(2,-10.6)(3,-9.4)(4,-10.2)(5,-9.2)(6,-8.6)(7,-9.4)(8,-8.8)(9,-10.2)(10,-11.4)(11,-12.6)(12,-12.2)(13,-11.8)(14,-12.4)(15,-12.8)(16,-12.2)(17,-12.6)(18,-12.9)(19,-12.4)(20,-12.8)(21,-13)(22,-13.4)(23,-13.2)(24,-13.6)(25,-13.4)(26,-14.0)(27,-14.2)(28,-14.6)(29,-14.5)(30,-15)(31,-15.4)(32,-15.8)(33,-16.2)(34,-15.8)(35,-16.8)(36,-16.4)(37,-17.6)(38,-17.2)(39,-18.4)(40,-17.8)(41,-19.2)(42,-18.6)(43,-20.2)(44,-19.6)(45,-21)(46,-20.2)(47,-22.4)(48,-21.6)(49,-24)(50,-23.2)(51,-25.8)(52,-25)(53,-27.5)(54,-27)(55,-29.5)(56,-31)(57,-33.5)(58,-37)(58.5,-40)(60,-40)(61,-36)(62,-38.5)(63,-33)(64,-37)(65,-40)(66,-34)(67,-31)(68,-35)(69,-32.5)(70,-37.5)(71,-33)(72,-31)(73,-36)(74,-39)(75,-33.5)(76,-30)(77,-35)(78,-38)(79,-33)(80,-36.5)(81,-40)(82,-34)(83,-37)(84,-33)(85,-36.5)(86,-40)(87,-35)(88,-38)(89,-34)(90,-37)};
\addlegendentry{f = 60 GHz}
\addplot[s61] coordinates {(-90,-24.5)(-89,-25)(-88,-23.8)(-87,-25.2)(-86,-24.2)(-85,-25.8)(-84,-24.6)(-83,-26.4)(-82,-25.2)(-81,-27)(-80,-26.5)(-79,-28)(-78,-27.4)(-77,-29.5)(-76,-30.5)(-75,-32.5)(-74.5,-30)(-74,-33)(-73,-31)(-72,-32.5)(-71,-30)(-70,-31)(-69,-28.5)(-68,-29.5)(-67,-27)(-66,-26)(-65,-25)(-64,-24)(-63,-23.2)(-62,-21.8)(-61,-20.5)(-60,-21.6)(-59,-20.2)(-58,-21)(-57,-20.6)(-56,-21.8)(-55,-21.2)(-54,-22.2)(-53,-21.6)(-52,-22.4)(-51,-21.8)(-50,-22.6)(-49,-21.6)(-48,-21)(-47,-21.6)(-46,-20.8)(-45,-21.2)(-44,-20.4)(-43,-19.8)(-42,-19.2)(-41,-18.6)(-40,-17.8)(-39,-17)(-38,-16.2)(-37,-15.4)(-36,-14.6)(-35,-14)(-34,-13.6)(-33,-13.2)(-32,-12.8)(-31,-13.2)(-30,-12.6)(-29,-13.4)(-28,-14.2)(-27,-13)(-26,-12.6)(-25,-13.8)(-24,-14.2)(-23,-13)(-22,-15.6)(-21,-13.2)(-20,-12.6)(-19,-13.8)(-18,-12.4)(-17,-14)(-16,-12.6)(-15,-14.8)(-14,-12.2)(-13,-13.4)(-12,-11.6)(-11,-13)(-10,-12)(-9,-12.8)(-8,-11.2)(-7,-12.6)(-6,-11.8)(-5,-13)(-4,-11.4)(-3,-12.4)(-2,-11.6)(-1,-12.8)(0,-11.6)(1,-13)(2,-12.2)(3,-14.6)(4,-11.6)(5,-12.8)(6,-10.6)(7,-11.4)(8,-9.8)(9,-12.6)(10,-14.2)(11,-12.8)(12,-13.6)(13,-12.4)(14,-13.2)(15,-13.6)(16,-13.4)(17,-13.8)(18,-14.2)(19,-14.0)(20,-14.4)(21,-14.8)(22,-15)(23,-15.4)(24,-15.6)(25,-16)(26,-16.3)(27,-16.6)(28,-16.4)(29,-17.2)(30,-17.6)(31,-17.4)(32,-18.4)(33,-18)(34,-19.2)(35,-18.6)(36,-20.4)(37,-19.6)(38,-21.6)(39,-20.8)(40,-23)(41,-22)(42,-24.6)(43,-23.4)(44,-26)(45,-25)(46,-27.5)(46.5,-26)(47,-29)(48,-28)(49,-31)(49.5,-37.5)(50,-32)(51,-30)(52,-32.5)(53,-30.5)(54,-33)(55,-31.5)(56,-29.5)(57,-31)(58,-33.5)(59,-31)(60,-29.5)(61,-32)(62,-30)(63,-34)(64,-31)(65,-29.5)(66,-30.5)(67,-35)(68,-31)(69,-30)(70,-33)(71,-31.5)(72,-34)(73,-32)(74,-35)(75,-31)(76,-33.5)(77,-32)(78,-35)(79,-33)(80,-36)(81,-32.5)(82,-34.5)(83,-33)(84,-37)(85,-35)(86,-38)(87,-34)(88,-36)(89,-33.5)(90,-35)};
\addlegendentry{f = 61 GHz}
\end{axis}

\begin{scope}[font=\fontsize{24}{24}\selectfont\bfseries, text=txt]
\node[anchor=base] at (229pt,397pt) {(a) - Plan E (rayonnement principal)};
\node[anchor=base] at (811pt,397pt) {(b) - Plan H (rayonnement principal)};
\node[anchor=base] at (224pt,13pt) {(c) - Plan E (rayonnement arrière)};
\node[anchor=base] at (812pt,13pt) {(d) - Plan H (rayonnement arrière)};
\end{scope}
\end{tikzpicture}
\end{document}
